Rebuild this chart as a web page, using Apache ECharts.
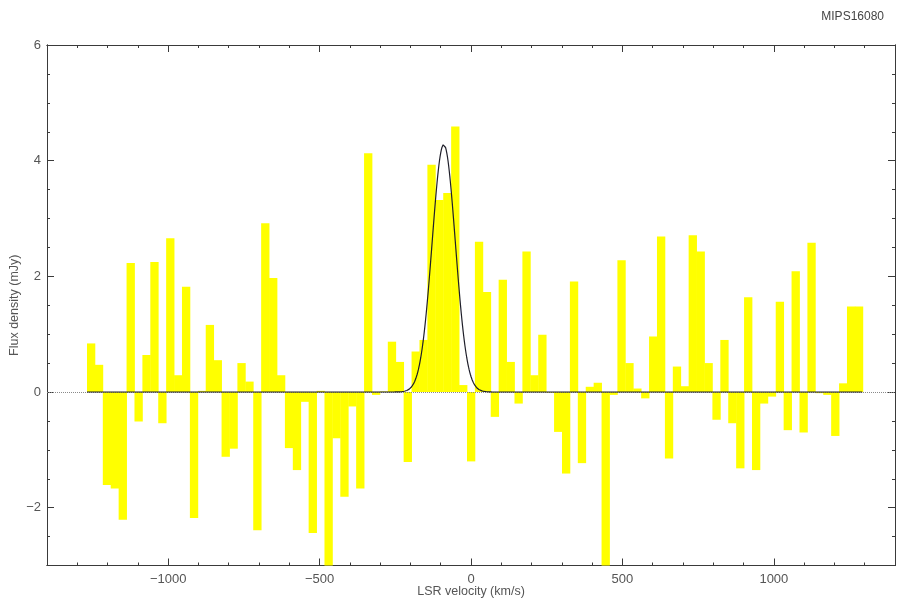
<!DOCTYPE html>
<html>
<head>
<meta charset="utf-8">
<title>MIPS16080</title>
<script src="https://cdn.jsdelivr.net/npm/echarts@6/dist/echarts.min.js"></script>
<style>
  html, body { margin: 0; padding: 0; background: #ffffff; }
  #chart { width: 898px; height: 603px; }
</style>
</head>
<body>
<div id="chart"></div>
<script>
// Spectral channels: left edge of the first channel and channel width (km/s)
const chanStart = -1268;
const chanWidth = 26.14;

// Flux density per channel (mJy), low to high velocity
const flux = [
  0.84, 0.47, -1.61, -1.67, -2.21, 2.23, -0.51, 0.64, 2.25, -0.54,
  2.66, 0.29, 1.82, -2.18, 0.02, 1.16, 0.55, -1.12, -0.98, 0.50,
  0.18, -2.39, 2.92, 1.97, 0.29, -0.97, -1.35, -0.17, -2.44, 0.02,
  -3.20, -0.80, -1.81, -0.25, -1.67, 4.13, -0.05, 0.01, 0.87, 0.52,
  -1.21, 0.70, 0.90, 3.93, 3.32, 3.44, 4.59, 0.12, -1.20, 2.60,
  1.73, -0.43, 1.94, 0.52, -0.20, 2.43, 0.29, 0.99, -0.01, -0.69,
  -1.41, 1.91, -1.23, 0.09, 0.16, -3.20, -0.05, 2.28, 0.50, 0.06,
  -0.11, 0.96, 2.69, -1.15, 0.44, 0.10, 2.71, 2.43, 0.50, -0.48,
  0.90, -0.54, -1.32, 1.64, -1.35, -0.20, -0.08, 1.56, -0.66, 2.09,
  -0.70, 2.58, -0.02, -0.05, -0.76, 0.15, 1.48, 1.48
];

// Gaussian line fit: peak (mJy), centre and FWHM (km/s)
const fitPeak = 4.28;
const fitCenter = -90;
const fitFwhm = 90;

// Axis ranges and tick positions
const xRange = [-1400, 1400];
const yRange = [-3, 6];
const xMajorTicks = [-1000, -500, 0, 500, 1000];
const yMajorTicks = [-2, 0, 2, 4, 6];

// Channel centres
const velocity = flux.map((_, i) => chanStart + (i + 0.5) * chanWidth);
const spectrum = velocity.map((v, i) => [v, flux[i]]);

// Fitted profile sampled across the observed band
const fitSigma = fitFwhm / (2 * Math.sqrt(2 * Math.log(2)));
const bandEnd = chanStart + flux.length * chanWidth;
const fitCurve = [];
for (let v = chanStart; v <= bandEnd + 0.01; v += 2) {
  fitCurve.push([v, fitPeak * Math.exp(-0.5 * Math.pow((v - fitCenter) / fitSigma, 2))]);
}

const axisColor = '#3a3a3a';
const textColor = '#555555';
const font = 'Liberation Sans';

function minus(v) {
  return v < 0 ? '\u2212' + Math.abs(v) : String(v);
}

function xAxisDef(position, ticks, len, showLabels) {
  const ax = {
    type: 'value', position: position, min: xRange[0], max: xRange[1],
    axisLine: { show: true, onZero: false, lineStyle: { color: axisColor, width: 1 } },
    axisTick: { show: true, inside: true, length: len, lineStyle: { color: axisColor } },
    axisLabel: { show: false },
    splitLine: { show: false }
  };
  if (ticks) {
    ax.axisTick.customValues = ticks;
  } else {
    ax.interval = 100;
  }
  if (showLabels) {
    ax.axisLabel = {
      show: true, customValues: xMajorTicks, margin: 7,
      color: textColor, fontFamily: font, fontSize: 13,
      formatter: minus
    };
    ax.name = 'LSR velocity (km/s)';
    ax.nameLocation = 'middle';
    ax.nameGap = 20;
    ax.nameMoveOverlap = false;
    ax.nameTextStyle = { color: textColor, fontFamily: font, fontSize: 12.5 };
  }
  return ax;
}

function yAxisDef(position, ticks, len, showLabels) {
  const ax = {
    type: 'value', position: position, min: yRange[0], max: yRange[1],
    axisLine: { show: true, onZero: false, lineStyle: { color: axisColor, width: 1 } },
    axisTick: { show: true, inside: true, length: len, lineStyle: { color: axisColor } },
    axisLabel: { show: false },
    splitLine: { show: false }
  };
  if (ticks) {
    ax.axisTick.customValues = ticks;
  } else {
    ax.interval = 0.5;
  }
  if (showLabels) {
    ax.axisLabel = {
      show: true, customValues: yMajorTicks, margin: 6,
      color: textColor, fontFamily: font, fontSize: 13,
      formatter: minus
    };
    ax.name = 'Flux density (mJy)';
    ax.nameLocation = 'middle';
    ax.nameGap = 26;
    ax.nameMoveOverlap = false;
    ax.nameRotate = 90;
    ax.nameTextStyle = { color: textColor, fontFamily: font, fontSize: 12.5 };
  }
  return ax;
}

const chart = echarts.init(document.getElementById('chart'), null, { renderer: 'canvas' });

chart.setOption({
  animation: false,
  backgroundColor: '#ffffff',
  title: {
    text: 'MIPS16080',
    right: 9, top: 6,
    textStyle: { color: '#444444', fontFamily: font, fontSize: 12, fontWeight: 'normal' }
  },
  grid: { left: 47, right: 3, top: 45, bottom: 37.5, outerBoundsMode: 'none', containLabel: false },
  xAxis: [
    xAxisDef('bottom', null, 3, true),
    xAxisDef('bottom', xMajorTicks, 7, false),
    xAxisDef('top', null, 3, false),
    xAxisDef('top', xMajorTicks, 7, false)
  ],
  yAxis: [
    yAxisDef('left', null, 3, true),
    yAxisDef('left', yMajorTicks, 7, false),
    yAxisDef('right', null, 3, false),
    yAxisDef('right', yMajorTicks, 7, false)
  ],
  series: [
    {
      name: 'spectrum',
      type: 'custom',
      xAxisIndex: 0, yAxisIndex: 0,
      data: spectrum,
      z: 2,
      renderItem: function (params, api) {
        const v = api.value(0);
        const f = api.value(1);
        const a = api.coord([v - chanWidth / 2, f]);
        const b = api.coord([v + chanWidth / 2, 0]);
        const shape = echarts.graphic.clipRectByRect({
          x: a[0],
          y: Math.min(a[1], b[1]),
          width: b[0] - a[0] + 0.4,
          height: Math.abs(b[1] - a[1])
        }, {
          x: params.coordSys.x, y: params.coordSys.y,
          width: params.coordSys.width, height: params.coordSys.height
        });
        if (!shape) return null;
        return { type: 'rect', shape: shape, style: { fill: '#ffff00' } };
      },
      markLine: {
        silent: true, symbol: 'none',
        label: { show: false },
        lineStyle: { color: '#8a8a8a', type: 'dotted', width: 1 },
        data: [{ yAxis: 0 }]
      }
    },
    {
      name: 'gaussian fit',
      type: 'line',
      xAxisIndex: 0, yAxisIndex: 0,
      data: fitCurve,
      showSymbol: false,
      smooth: false,
      z: 5,
      lineStyle: { color: '#1f1f2a', width: 1.2 }
    }
  ]
});
</script>
</body>
</html>
